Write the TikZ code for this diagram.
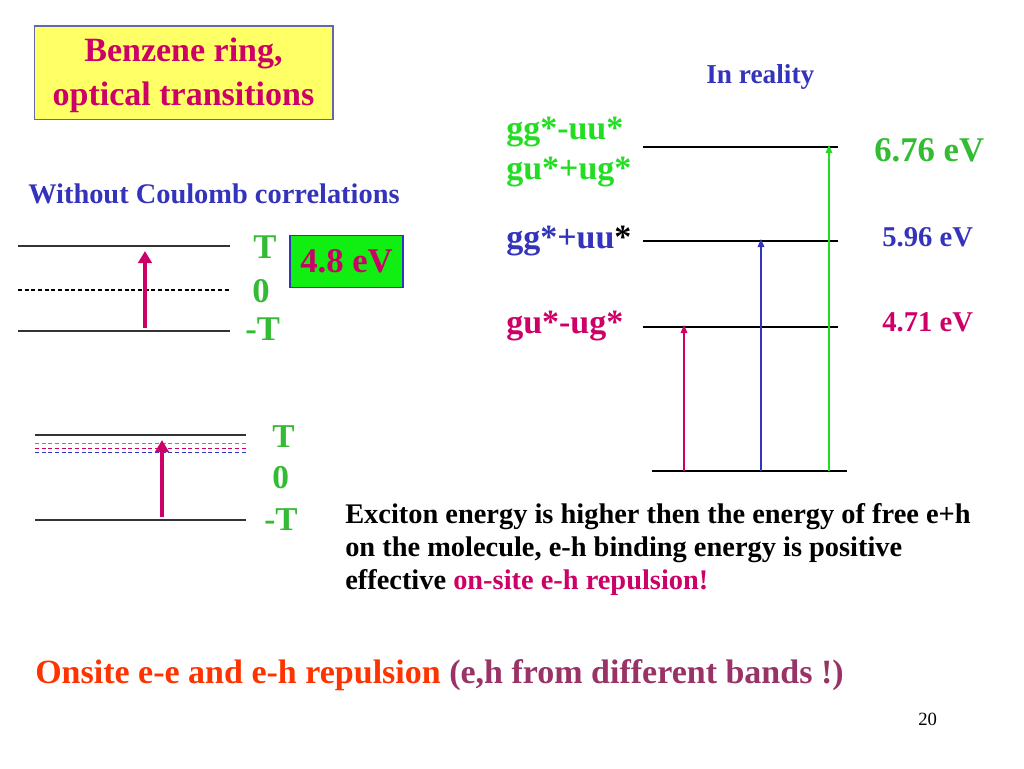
\documentclass[tikz,border=0pt]{standalone}
\usepackage{fontspec}
\setmainfont{Liberation Serif}
\usetikzlibrary{arrows.meta}
\definecolor{mag}{HTML}{CC0066}
\definecolor{grn}{HTML}{33BB33}
\definecolor{lgrn}{HTML}{22DD22}
\definecolor{blu}{HTML}{3333BB}
\definecolor{boxgrn}{HTML}{11EE11}
\definecolor{ttlfill}{HTML}{FFFF66}
\definecolor{ttlline}{HTML}{6666AA}
\definecolor{orng}{HTML}{FF3300}
\definecolor{purp}{HTML}{993366}
\begin{document}
\begin{tikzpicture}[x=0.75pt,y=-0.75pt,
  txt/.style={inner sep=0pt,anchor=base west,font=\bfseries},
  level/.style={line width=0.9pt,draw=black!80},
  thickarr/.style={mag,line width=3pt,-{Triangle[width=10pt,length=9pt]}},
  thinarr/.style={line width=0.8pt,-{Triangle[width=5pt,length=6pt]}}]
\useasboundingbox (0,0) rectangle (1024,768);
% title
\node[draw=ttlline,fill=ttlfill,line width=1pt,minimum width=224pt,minimum height=70pt,inner sep=0pt] (titlebox) at (183.5,72.5) {};
\node[inner sep=0pt,align=center,font=\fontsize{25.5}{33}\selectfont\bfseries,text=mag] (title) at (183.5,75.5)
  {Benzene ring,\\optical transitions};
\node[txt,text=blu,font=\fontsize{21.3}{24}\selectfont\bfseries] (wo) at (28,203) {Without Coulomb correlations};
\node[txt,text=blu,font=\fontsize{20.5}{24}\selectfont\bfseries] (real) at (706,83) {In reality};
% upper-left levels
\coordinate (a1) at (18,246); \coordinate (a2) at (230,246);
\coordinate (b1) at (18,290); \coordinate (b2) at (230,290);
\coordinate (c1) at (18,331); \coordinate (c2) at (230,331);
\draw[level] (a1) -- (a2);
\draw[line width=0.8pt,dash pattern=on 3pt off 2pt] (b1) -- (b2);
\draw[level] (c1) -- (c2);
\coordinate (ua0) at (145,328); \coordinate (ua1) at (145,251);
\draw[thickarr] (ua0) -- (ua1);
\node[txt,text=grn,font=\fontsize{26}{30}\selectfont\bfseries] (t1) at (253,258) {T};
\node[txt,text=grn,font=\fontsize{26}{30}\selectfont\bfseries] (z1) at (252,302) {0};
\node[txt,text=grn,font=\fontsize{26}{30}\selectfont\bfseries] (m1) at (245,340) {-T};
\node[draw=blu,fill=boxgrn,line width=1pt,minimum width=84.75pt,minimum height=39pt,inner sep=0pt,
  text=mag,font=\fontsize{26}{30}\selectfont\bfseries] (ev) at (346.5,261.5) {4.8 eV};
% lower-left levels
\coordinate (d1) at (35,435); \coordinate (d2) at (246,435);
\coordinate (e1) at (35,520); \coordinate (e2) at (246,520);
\draw[level] (d1) -- (d2);
\draw[grn,line width=0.7pt,dash pattern=on 3pt off 2pt] (35,443) -- (246,443);
\draw[mag,line width=0.7pt,dash pattern=on 3pt off 2pt] (35,448) -- (246,448);
\draw[blu,line width=0.7pt,dash pattern=on 3pt off 2pt] (35,452) -- (246,452);
\draw[level] (e1) -- (e2);
\coordinate (la0) at (162,517); \coordinate (la1) at (162,440);
\draw[thickarr] (la0) -- (la1);
\node[txt,text=grn,font=\fontsize{25}{30}\selectfont\bfseries] (t2) at (272,447) {T};
\node[txt,text=grn,font=\fontsize{25}{30}\selectfont\bfseries] (z2) at (272,488) {0};
\node[txt,text=grn,font=\fontsize{25}{30}\selectfont\bfseries] (m2) at (264,530) {-T};
% right panel
\coordinate (p1) at (643,147); \coordinate (p2) at (838,147);
\coordinate (q1) at (643,241); \coordinate (q2) at (838,241);
\coordinate (r1) at (643,327); \coordinate (r2) at (838,327);
\coordinate (g1) at (652,471); \coordinate (g2) at (847,471);
\draw[line width=0.8pt] (p1) -- (p2);
\draw[line width=0.8pt] (q1) -- (q2);
\draw[line width=0.8pt] (r1) -- (r2);
\draw[line width=0.8pt] (g1) -- (g2);
\draw[thinarr,mag] (684,471) -- (684,325);
\draw[thinarr,blu] (761,471) -- (761,239);
\draw[thinarr,lgrn] (829,471) -- (829,145);
\node[txt,text=lgrn,font=\fontsize{25.5}{28}\selectfont\bfseries] (l1) at (506,139) {gg*-uu*};
\node[txt,text=lgrn,font=\fontsize{25.5}{28}\selectfont\bfseries] (l2) at (506,179) {gu*+ug*};
\node[txt,text=blu,font=\fontsize{25.5}{28}\selectfont\bfseries] (l3) at (506,248) {gg*+uu\textcolor{black}{*}};
\node[txt,text=mag,font=\fontsize{25.5}{28}\selectfont\bfseries] (l4) at (506,333) {gu*-ug*};
\node[txt,text=grn,font=\fontsize{26}{30}\selectfont\bfseries] (v1) at (874,161) {6.76 eV};
\node[txt,text=blu,font=\fontsize{21.5}{25}\selectfont\bfseries] (v2) at (882,246) {5.96 eV};
\node[txt,text=mag,font=\fontsize{21.5}{25}\selectfont\bfseries] (v3) at (882,331) {4.71 eV};
% body text
\node[inner sep=0pt,anchor=north west,align=left,font=\fontsize{21.3}{24.75}\selectfont\bfseries] (body) at (345,503)
 {Exciton energy is higher then the energy of free e+h\\
  on the molecule, e-h binding energy is positive\\
  effective \textcolor{mag}{on-site e-h repulsion!}};
\node[txt,font=\fontsize{25.5}{30}\selectfont\bfseries] (bottom) at (35,683)
 {\textcolor{orng}{Onsite e-e and e-h repulsion} \textcolor{purp}{(e,h from different bands !)}};
\node[inner sep=0pt,anchor=base west,font=\fontsize{14}{16}\selectfont] (pg) at (918,725) {20};
\end{tikzpicture}
\end{document}
